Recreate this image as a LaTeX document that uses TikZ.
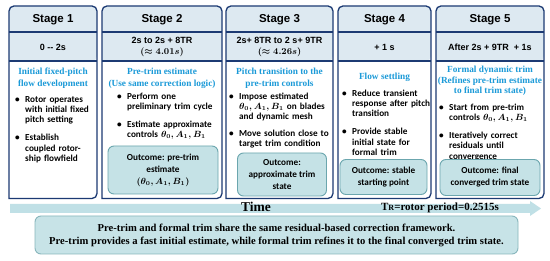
\documentclass[tikz,border=0pt]{standalone}
\usepackage{amsmath,bm}
\usepackage{fontspec}
\setmainfont{Liberation Serif}
\newfontfamily\hsans{Liberation Sans}
\newfontfamily\csans{Carlito}
\definecolor{navy}{HTML}{1C3A73}
\definecolor{hdr}{HTML}{DDE9F1}
\definecolor{tblue}{HTML}{1B9AD8}
\definecolor{outf}{HTML}{C5E2E6}
\definecolor{outb}{HTML}{6BA6AE}
\definecolor{arrowc}{HTML}{C0E0E6}
\definecolor{botf}{HTML}{C7E3E7}
\definecolor{botb}{HTML}{88B6BC}
\newcommand\bitem[1]{\par\hangindent=10pt\hangafter=1\noindent\hbox to 10pt{\textbullet\hfil}#1\par}
\newcommand\bgap{\par\vspace{8pt}}
\tikzset{
  frame/.style={draw=navy, line width=1.3pt},
  stitle/.style={font=\hsans\bfseries\fontsize{11.5}{13}\selectfont, inner sep=0},
  ttime/.style={font=\hsans\bfseries\fontsize{9}{11.5}\selectfont, align=center, inner sep=0},
  btitle/.style={font=\bfseries\fontsize{9.3}{11.8}\selectfont, text=tblue, align=center, inner sep=0},
  bul/.style={font=\csans\bfseries\fontsize{9.2}{10.2}\selectfont, align=left, anchor=north west, inner sep=0, text width=120pt},
  outc/.style={draw=outb, fill=outf, rounded corners=6pt, line width=0.9pt, inner sep=0},
  outtxt/.style={font=\csans\bfseries\fontsize{9.2}{12}\selectfont, align=center, inner sep=0},
}
\newcommand\stagebox[2]{% x1, x2
  \fill[hdr] (#1,61) [rounded corners=5pt] -- (#1,6) -- (#2,6) -- (#2,61) [sharp corners] -- cycle;
  \draw[navy, line width=1.1pt] (#1,32) -- (#2,32) (#1,61) -- (#2,61);
  \draw[frame] (#1,198.5) [rounded corners=5pt] -- (#1,6) -- (#2,6) -- (#2,198.5) [sharp corners] -- cycle;
}
\begin{document}
\begin{tikzpicture}[x=1pt,y=-1pt]
\useasboundingbox (0,0) rectangle (550,261);
\fill[white] (0,0) rectangle (550,261);

% stage frames
\stagebox{9}{97}
\stagebox{102}{222}
\stagebox{226}{333}
\stagebox{338}{431}
\stagebox{436}{544}

% Stage 1
\node[stitle] (t1) at (53,19.5) {Stage 1};
\node[ttime] (d1) at (53,47) {0 -- 2s};
\node[btitle] (h1) at (53,78) {Initial fixed-pitch\\flow development};
\node[bul] (b1) at (15,92) {\bitem{Rotor operates\newline with initial fixed\newline pitch setting}\bgap\bitem{Establish\newline coupled rotor-\newline ship flowfield}};

% Stage 2
\node[stitle] (t2) at (162,19.5) {Stage 2};
\node[ttime] (d2) at (162,47) {2s to 2s + 8TR\\{\boldmath$(\approx 4.01s)$}};
\node[btitle] (h2) at (162,78) {Pre-trim estimate\\(Use same correction logic)};
\node[bul] (b2) at (117,89) {\bitem{Perform one\newline preliminary trim cycle}\bgap\bitem{Estimate approximate\newline controls {\boldmath$\theta_0, A_1, B_1$}}};
\node[outc, minimum width=110pt, minimum height=48pt] (o2) at (163,170) {};
\node[outtxt] (o2t) at (o2.center) {Outcome: pre-trim\\estimate\\{\boldmath$(\theta_0, A_1, B_1)$}};

% Stage 3
\node[stitle] (t3) at (279.5,19.5) {Stage 3};
\node[ttime] (d3) at (279.5,47) {2s+ 8TR to 2 s+ 9TR\\{\boldmath$(\approx 4.26s)$}};
\node[btitle] (h3) at (279.5,78) {Pitch transition to the\\pre-trim controls};
\node[bul] (b3) at (229,89) {\bitem{Impose estimated\newline {\boldmath$\theta_0, A_1, B_1$} on blades\newline and dynamic mesh}\par\vspace{6.5pt}\bitem{Move solution close to\newline target trim condition}};
\node[outc, minimum width=89pt, minimum height=43pt] (o3) at (282,174.5) {};
\node[outtxt] (o3t) at (o3.center) {Outcome:\\approximate trim\\state};

% Stage 4
\node[stitle] (t4) at (384.5,19.5) {Stage 4};
\node[ttime] (d4) at (384.5,47) {+ 1 s};
\node[btitle] (h4) at (384.5,77) {Flow settling};
\node[bul] (b4) at (342,86) {\bitem{Reduce transient\newline response after pitch\newline transition}\bgap\bitem{Provide stable\newline initial state for\newline formal trim}};
\node[outc, minimum width=87pt, minimum height=35pt] (o4) at (383.5,177) {};
\node[outtxt] (o4t) at (o4.center) {Outcome: stable\\starting point};

% Stage 5
\node[stitle] (t5) at (490,19.5) {Stage 5};
\node[ttime] (d5) at (490,47) {After 2s + 9TR\ \ + 1s};
\node[btitle, font=\bfseries\fontsize{9.3}{10.5}\selectfont] (h5) at (490,81) {Formal dynamic trim\\(Refines pre-trim estimate\\to final trim state)};
\node[bul] (b5) at (439,100) {\bitem{Start from pre-trim\newline controls {\boldmath$\theta_0, A_1, B_1$}}\bgap\bitem{Iteratively correct\newline residuals until\newline convergence}};
\node[outc, minimum width=100pt, minimum height=36pt] (o5) at (490,177.5) {};
\node[outtxt] (o5t) at (o5.center) {Outcome: final\\converged trim state};

% time arrow
\fill[arrowc] (10,204) -- (530,204) -- (530,201) -- (541,208.5) -- (530,216) -- (530,213) -- (10,213) -- cycle;
\node[font=\bfseries\fontsize{13.5}{15}\selectfont, inner sep=0] (time) at (256,207) {Time};
\node[font=\bfseries\fontsize{11}{13}\selectfont, inner sep=0] (tr) at (440,208) {T{\fontsize{8}{9}\selectfont R}=rotor period=0.2515s};

% bottom note
\node[draw=botb, fill=botf, rounded corners=6pt, line width=0.9pt, minimum width=483pt, minimum height=38pt] (note) at (276.5,235) {};
\node[font=\bfseries\fontsize{10.6}{13}\selectfont, align=center, inner sep=0] (notet) at (note.center) {Pre-trim and formal trim share the same residual-based correction framework.\\Pre-trim provides a fast initial estimate, while formal trim refines it to the final converged trim state.};
\end{tikzpicture}
\end{document}
